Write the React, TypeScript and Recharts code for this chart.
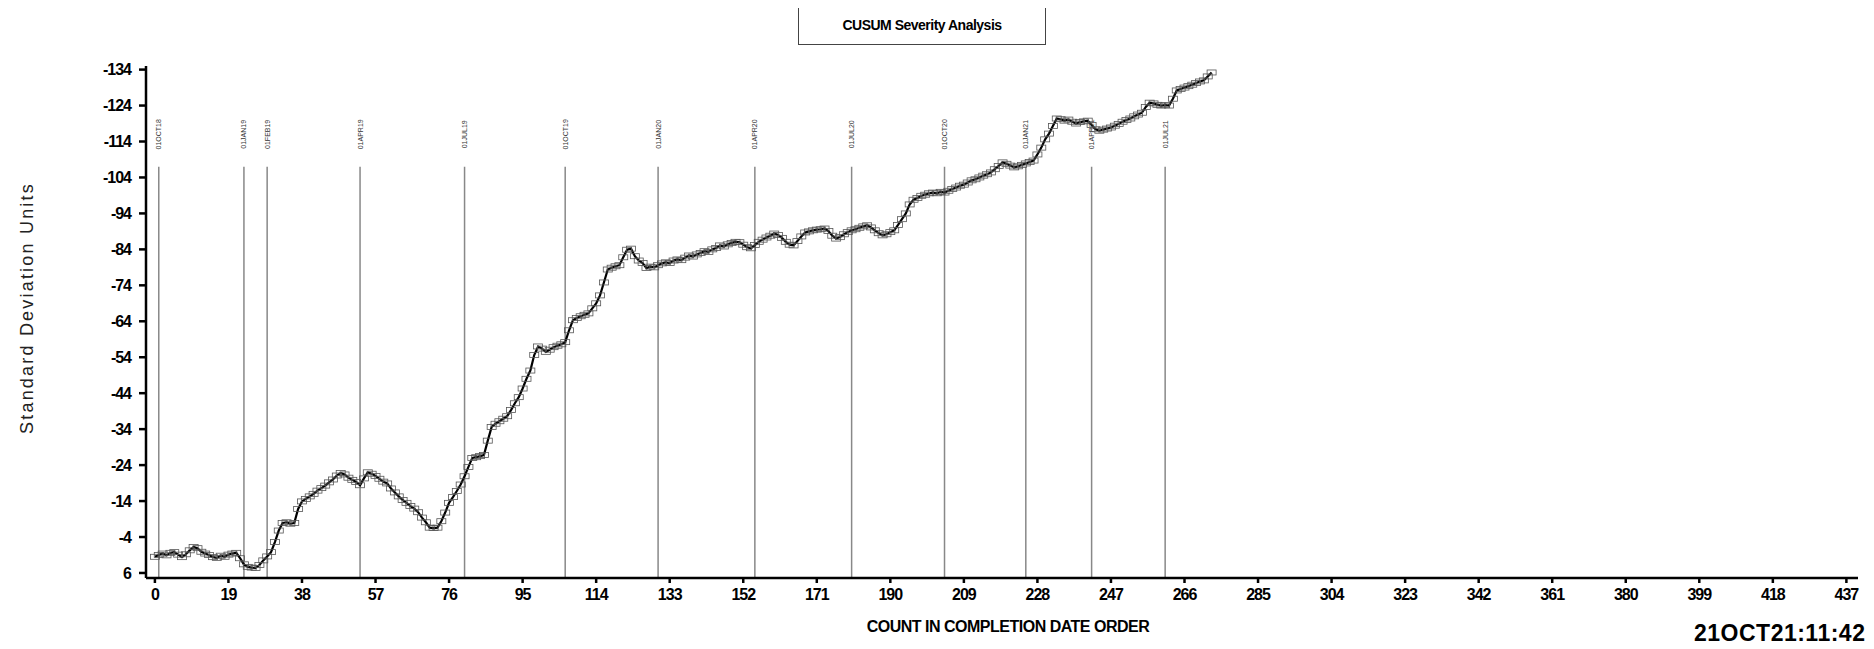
import React from 'react'
import { ComposedChart, Line, Scatter, XAxis, YAxis, ReferenceLine } from 'recharts'

// cusum value per count (index = count in completion date order)
const cusumValues = [
  1.5, 1.0, 0.6, 1.1, 0.4, 0.2, 0.9, 1.6, 0.8, -0.3,
  -1.2, -0.9, 0.1, 0.6, 1.0, 1.6, 1.8, 1.2, 1.5, 0.9,
  0.6, 0.4, 1.9, 3.6, 4.3, 4.5, 4.6, 3.8, 2.5, 1.4,
  0.2, -2.6, -5.8, -7.9, -8.1, -7.7, -7.9, -11.8, -13.9, -14.6,
  -15.3, -16.0, -16.9, -17.6, -18.3, -19.2, -20.0, -21.1, -21.8, -21.4,
  -20.5, -19.9, -19.3, -18.4, -20.3, -22.0, -21.6, -21.0, -20.2, -19.4,
  -18.9, -17.5, -16.4, -15.3, -14.3, -13.5, -12.6, -11.9, -10.9, -9.4,
  -8.1, -6.6, -6.5, -6.6, -8.4, -10.8, -13.5, -15.1, -16.8, -18.6,
  -20.9, -23.5, -26.0, -26.2, -26.5, -26.8, -30.8, -34.6, -35.5, -36.2,
  -36.9, -37.6, -39.3, -41.2, -42.9, -45.3, -48.0, -50.3, -54.6, -57.0,
  -56.4, -55.5, -56.1, -56.8, -57.2, -57.6, -58.2, -61.5, -64.3, -64.9,
  -65.4, -65.8, -66.2, -67.6, -69.0, -71.2, -74.8, -78.4, -78.9, -79.3,
  -79.6, -81.8, -83.9, -84.2, -82.1, -80.9, -80.2, -78.8, -79.2, -79.0,
  -79.6, -80.1, -80.4, -80.2, -80.9, -81.2, -81.0, -81.7, -82.3, -82.0,
  -82.6, -83.0, -83.5, -83.3, -84.0, -84.4, -85.1, -84.8, -85.4, -85.8,
  -86.1, -86.0, -85.3, -84.6, -84.3, -85.2, -86.1, -86.7, -87.3, -87.8,
  -88.4, -88.0, -87.2, -86.1, -85.3, -85.1, -86.3, -87.6, -88.7, -89.0,
  -89.3, -89.5, -89.6, -89.8, -89.1, -87.8, -87.0, -87.4, -88.2, -88.8,
  -89.3, -89.6, -90.0, -90.4, -90.7, -90.1, -89.3, -88.5, -87.9, -88.2,
  -88.8, -89.3, -90.8, -92.4, -94.0, -96.5, -97.8, -98.3, -98.9, -99.2,
  -99.6, -99.8, -99.6, -100.0, -99.8, -100.3, -100.8, -101.2, -101.7, -102.0,
  -102.6, -103.2, -103.5, -104.0, -104.5, -104.9, -105.4, -106.3, -107.2, -108.2,
  -107.8, -107.3, -106.8, -107.1, -107.5, -107.9, -108.3, -108.7, -110.4, -112.3,
  -114.6, -116.2, -118.3, -120.4, -120.2, -119.8, -120.1, -119.5, -119.0, -119.4,
  -119.6, -119.8, -118.6, -117.4, -117.0, -117.3, -117.6, -117.9, -118.4, -118.9,
  -119.5, -120.0, -120.4, -121.0, -121.5, -122.0, -123.6, -124.8, -124.6, -124.2,
  -124.0, -124.1, -124.0, -125.9, -128.2, -128.6, -129.0, -129.4, -129.8, -130.3,
  -130.7, -131.0, -132.1, -133.2,
]

// vertical period markers
const markerCounts = [1, 23, 29, 53, 80, 106, 130, 155, 180, 204, 225, 242, 261]
const markerLabels = [
  '01OCT18', '01JAN19', '01FEB19', '01APR19', '01JUL19', '01OCT19', '01JAN20',
  '01APR20', '01JUL20', '01OCT20', '01JAN21', '01APR21', '01JUL21',
]

const xTicks = [0, 19, 38, 57, 76, 95, 114, 133, 152, 171, 190, 209, 228, 247, 266, 285, 304, 323, 342, 361, 380, 399, 418, 437]
const yTicks = [6, -4, -14, -24, -34, -44, -54, -64, -74, -84, -94, -104, -114, -124, -134]

const lineData = cusumValues.map((v, i) => ({ x: i, value: v }))
const labelData = markerCounts.map((c, i) => ({ x: c, y: -116, label: markerLabels[i] }))

const font = '"Liberation Sans", Arial, sans-serif'

const SquareDot = (props: any) => {
  const { cx, cy } = props
  if (cx == null || cy == null) return null
  return <rect x={cx - 4.5} y={cy - 2.5} width={9} height={5} fill="none" stroke="#555" strokeWidth={0.8} />
}

const MarkerLabel = (props: any) => {
  const { cx, cy, payload } = props
  return (
    <text
      x={cx}
      y={cy}
      transform={`rotate(-90 ${cx} ${cy})`}
      textAnchor="middle"
      dominantBaseline="central"
      fontSize={7}
      fontFamily={font}
      fill="#333"
    >
      {payload.label}
    </text>
  )
}

const tickStyle = { fontSize: 16, fontWeight: 'bold', fill: '#000', fontFamily: font, letterSpacing: -1 }

export default function App() {
  return (
    <div style={{ position: 'relative', width: 1866, height: 641, fontFamily: font }}>
      <div
        style={{
          position: 'absolute', left: 790, top: -3, width: 248, height: 40,
          border: '1.5px solid #444', boxSizing: 'border-box',
          display: 'flex', alignItems: 'center', justifyContent: 'center',
          fontSize: 14, fontWeight: 'bold', letterSpacing: -0.5,
        }}
      >
        CUSUM Severity Analysis
      </div>

      <ComposedChart width={1866} height={640} margin={{ top: 58, right: 16, bottom: 40, left: 78 }}>
        <XAxis
          dataKey="x"
          type="number"
          domain={[-2.3, 440]}
          ticks={xTicks}
          interval={0}
          allowDataOverflow
          height={30}
          tick={tickStyle}
          tickSize={5}
          tickMargin={6}
          stroke="#000"
          strokeWidth={2.5}
        />
        <YAxis
          type="number"
          reversed
          domain={[-135, 7.4]}
          ticks={yTicks}
          interval={0}
          allowDataOverflow
          width={60}
          tick={tickStyle}
          tickSize={7}
          tickMargin={8}
          stroke="#000"
          strokeWidth={2.5}
        />
        {markerCounts.map((c) => (
          <ReferenceLine
            key={c}
            segment={[{ x: c, y: -107 }, { x: c, y: 7.4 }]}
            stroke="#888"
            strokeWidth={1.5}
          />
        ))}
        <Scatter data={labelData} dataKey="y" shape={MarkerLabel} isAnimationActive={false} />
        <Line
          data={lineData}
          dataKey="value"
          type="linear"
          stroke="#000"
          strokeWidth={2.2}
          dot={SquareDot}
          activeDot={false}
          isAnimationActive={false}
        />
      </ComposedChart>

      <div
        style={{
          position: 'absolute', left: 19, top: 300, transform: 'translate(-50%, -50%) rotate(-90deg)',
          whiteSpace: 'nowrap', fontSize: 18, letterSpacing: 2.2, color: '#222',
        }}
      >
        Standard Deviation Units
      </div>
      <div
        style={{
          position: 'absolute', left: 1000, top: 619, transform: 'translate(-50%, -50%)',
          whiteSpace: 'nowrap', fontSize: 16, fontWeight: 'bold', letterSpacing: -0.5,
        }}
      >
        COUNT IN COMPLETION DATE ORDER
      </div>
      <div
        style={{
          position: 'absolute', left: 1686, top: 625, transform: 'translateY(-50%)',
          whiteSpace: 'nowrap', fontSize: 23, fontWeight: 'bold', letterSpacing: 0.5,
        }}
      >
        21OCT21:11:42
      </div>
    </div>
  )
}
